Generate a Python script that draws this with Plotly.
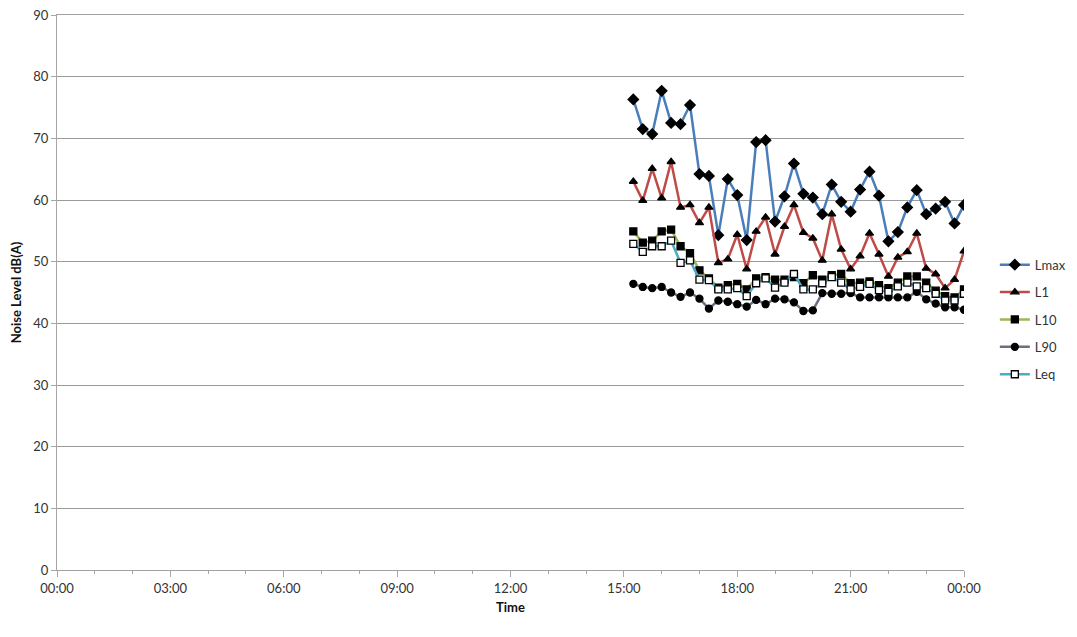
import plotly.graph_objects as go
import pandas as pd

times = pd.date_range("2000-01-01 15:15", "2000-01-02 00:00", freq="15min")

Lmax = [76.3, 71.5, 70.7, 77.7, 72.5, 72.3, 75.4, 64.2, 63.9, 54.3,
        63.4, 60.8, 53.5, 69.4, 69.7, 56.5, 60.6, 65.9, 61.0, 60.4,
        57.7, 62.5, 59.7, 58.1, 61.7, 64.6, 60.7, 53.3, 54.8, 58.8,
        61.6, 57.7, 58.6, 59.7, 56.2, 59.2]
L1 = [63.0, 59.9, 65.1, 60.3, 66.2, 58.8, 59.2, 56.3, 58.8, 49.8,
      50.4, 54.4, 48.8, 54.9, 57.2, 51.2, 55.7, 59.2, 54.7, 53.8,
      50.2, 57.7, 52.0, 48.8, 50.9, 54.6, 51.2, 47.6, 50.7, 51.6,
      54.6, 48.9, 48.0, 45.7, 47.1, 51.7]
L10 = [54.9, 53.1, 53.4, 54.9, 55.2, 52.5, 51.4, 48.6, 47.3, 45.8,
       46.2, 46.4, 45.5, 47.3, 47.5, 47.1, 47.1, 47.5, 46.5, 47.8,
       47.1, 47.8, 48.0, 46.5, 46.6, 46.8, 46.2, 45.7, 46.6, 47.6,
       47.6, 46.6, 45.3, 44.4, 44.2, 45.5]
L90 = [46.4, 45.9, 45.7, 45.9, 45.0, 44.3, 45.0, 44.0, 42.4, 43.7,
       43.5, 43.1, 42.7, 43.8, 43.1, 44.0, 43.9, 43.4, 42.0, 42.1,
       44.9, 44.8, 44.8, 44.9, 44.2, 44.2, 44.2, 44.2, 44.2, 44.2,
       45.1, 43.9, 43.2, 42.6, 42.6, 42.2]
Leq = [52.9, 51.6, 52.5, 52.5, 53.4, 49.8, 50.2, 47.1, 47.0, 45.5,
       45.5, 45.7, 44.4, 46.5, 47.3, 45.8, 46.6, 48.0, 45.5, 45.5,
       46.5, 47.5, 46.6, 45.5, 45.9, 46.4, 45.4, 45.1, 46.0, 46.6,
       46.0, 45.7, 44.8, 43.7, 43.7, 44.8]

series = [
    ("Lmax", Lmax, "#4a7ebb", "diamond", "black", 8),
    ("L1", L1, "#be4b48", "triangle-up", "black", 7),
    ("L10", L10, "#98b954", "square", "black", 7),
    ("L90", L90, "#6e6e80", "circle", "black", 7),
    ("Leq", Leq, "#4bacc6", "square", "white", 7),
]

fig = go.Figure()
for i, (name, vals, col, sym, fill, sz) in enumerate(series):
    fig.add_trace(go.Scatter(
        x=times, y=vals, name=name, mode="lines+markers",
        legendgroup=f"g{i}",
        line=dict(color=col, width=2.5),
        marker=dict(symbol=sym, size=sz, color=fill,
                    line=dict(color="black", width=1.3)),
    ))

fig.update_layout(
    width=1069, height=629,
    margin=dict(l=49, r=113, t=7, b=67, autoexpand=False),
    plot_bgcolor="white", paper_bgcolor="white",
    font=dict(family="Lato, Open Sans, sans-serif", size=13, color="#333333"),
    legend=dict(x=1.034, y=0.451, xanchor="left", yanchor="middle",
                tracegroupgap=7.5, font=dict(size=13),
                itemwidth=30),
    showlegend=True,
)
fig.update_xaxes(
    type="date", automargin=False,
    range=["2000-01-01 00:00", "2000-01-02 00:00"],
    dtick=3 * 3600 * 1000, tick0="2000-01-01 00:00",
    tickformat="%H:%M",
    showgrid=False, showline=True, linecolor="#a0a0a0", linewidth=1,
    mirror=True,
    ticks="outside", ticklen=6, tickcolor="#a6a6a6",
    minor=dict(dtick=3600 * 1000, ticks="outside", ticklen=3, tickcolor="#a6a6a6"),
    title=dict(text="<b>Time</b>", font=dict(size=13, color="#111111"), standoff=8),
    zeroline=False,
)
fig.update_yaxes(
    range=[0, 90], dtick=10, automargin=False,
    ticklabeloverflow="allow",
    showgrid=True, gridcolor="#9a9a9a", gridwidth=1,
    showline=True, linecolor="#a6a6a6", linewidth=1,
    ticks="outside", ticklen=5, tickcolor="#a6a6a6",
    title=dict(text="<b>Noise Level dB(A)</b>", font=dict(size=13, color="#111111"), standoff=8),
    zeroline=False,
)

fig.write_html("out.html")
